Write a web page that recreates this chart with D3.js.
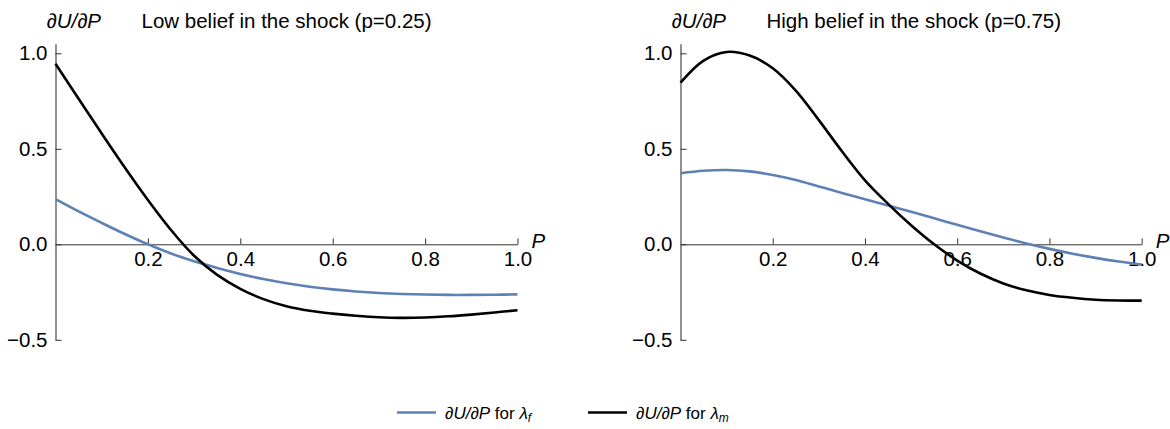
<!DOCTYPE html>
<html>
<head>
<meta charset="utf-8">
<script src="https://cdn.jsdelivr.net/npm/d3@7"></script>
<style>
  body { margin: 0; background: #fff; }
  svg { display: block; font-family: "Liberation Sans", Arial, Helvetica, sans-serif; }
</style>
</head>
<body>
<svg id="chart" width="1170" height="429"></svg>
<script>
// ---- data ----
const P = [0, 0.05, 0.1, 0.15, 0.2, 0.25, 0.3, 0.35, 0.4, 0.45, 0.5, 0.55, 0.6, 0.65, 0.7, 0.75, 0.8, 0.85, 0.9, 0.95, 1.0];

// Low belief (p = 0.25)
const lowF = [0.236, 0.172, 0.112, 0.054, 0.0, -0.048, -0.089, -0.124, -0.155, -0.182, -0.204, -0.222, -0.236, -0.247, -0.255, -0.260, -0.263, -0.265, -0.265, -0.264, -0.262];
const lowM = [0.945, 0.762, 0.580, 0.402, 0.232, 0.075, -0.060, -0.160, -0.233, -0.287, -0.324, -0.348, -0.363, -0.374, -0.382, -0.385, -0.383, -0.377, -0.368, -0.357, -0.345];

// High belief (p = 0.75)
const highF = [0.372, 0.385, 0.389, 0.382, 0.363, 0.337, 0.303, 0.269, 0.236, 0.203, 0.170, 0.136, 0.102, 0.068, 0.035, 0.004, -0.024, -0.049, -0.071, -0.090, -0.106];
const highM = [0.846, 0.962, 1.007, 0.988, 0.922, 0.805, 0.650, 0.487, 0.335, 0.212, 0.100, 0.000, -0.085, -0.153, -0.205, -0.241, -0.265, -0.280, -0.290, -0.294, -0.295];

const xTicks = [0.2, 0.4, 0.6, 0.8, 1.0];
const yTicks = [-0.5, 0, 0.5, 1.0];
const titles = ["Low belief in the shock (p=0.25)", "High belief in the shock (p=0.75)"];
const colors = { f: "#5E81B5", m: "#000000" };

// ---- drawing ----
const svg = d3.select("#chart");
const y = d3.scaleLinear().domain([-0.5, 1.05]).range([339.8, 43.75]);
const fmt = d3.format(".1f");
const FS = 20.5;

const panels = [
  { x: d3.scaleLinear().domain([0, 1]).range([55.5, 517.5]), title: titles[0], f: lowF, m: lowM },
  { x: d3.scaleLinear().domain([0, 1]).range([680.5, 1141.7]), title: titles[1], f: highF, m: highM }
];

panels.forEach(p => {
  const g = svg.append("g");
  const x0 = p.x(0);

  const xa = g.append("g")
    .attr("transform", `translate(0,${y(0)})`)
    .call(d3.axisBottom(p.x).tickValues(xTicks).tickFormat(fmt).tickSizeInner(-6).tickSizeOuter(0).tickPadding(7));
  const ya = g.append("g")
    .attr("transform", `translate(${x0},0)`)
    .call(d3.axisLeft(y).tickValues(yTicks).tickFormat(fmt).tickSizeInner(-6).tickSizeOuter(0).tickPadding(8));

  [xa, ya].forEach(a => {
    a.attr("font-size", FS).attr("font-family", "Liberation Sans, Arial, sans-serif");
    a.selectAll("text").attr("font-size", FS).attr("fill", "#000");
    a.selectAll("line").attr("stroke", "#333");
    a.select(".domain").attr("stroke", "#333");
  });
  ya.select(".domain").attr("stroke", "#555").attr("stroke-width", 1.3);

  g.append("text").attr("x", p.x(1) + 14).attr("y", y(0) + 4)
    .attr("font-size", FS).attr("font-style", "italic").text("P");

  g.append("text").attr("x", x0 - 9).attr("y", 28)
    .attr("font-size", FS).attr("font-style", "italic").text("∂U/∂P");
  g.append("text").attr("x", x0 + 86).attr("y", 28)
    .attr("font-size", FS).text(p.title);

  const line = d3.line().x((d, i) => p.x(P[i])).y(d => y(d)).curve(d3.curveCatmullRom.alpha(0.5));
  g.append("path").datum(p.f).attr("d", line).attr("fill", "none")
    .attr("stroke", colors.f).attr("stroke-width", 2.6).attr("stroke-linejoin", "round");
  g.append("path").datum(p.m).attr("d", line).attr("fill", "none")
    .attr("stroke", colors.m).attr("stroke-width", 2.6).attr("stroke-linejoin", "round");
});

// legend
const legend = [
  { x: 397, color: colors.f, sub: "f" },
  { x: 588, color: colors.m, sub: "m" }
];
legend.forEach(l => {
  svg.append("line").attr("x1", l.x).attr("x2", l.x + 39).attr("y1", 412.5).attr("y2", 412.5)
    .attr("stroke", l.color).attr("stroke-width", 2.6);
  const t = svg.append("text").attr("x", l.x + 48).attr("y", 418.5).attr("font-size", 17);
  t.append("tspan").attr("font-style", "italic").text("∂U/∂P");
  t.append("tspan").text(" for ");
  t.append("tspan").attr("font-style", "italic").text("λ");
  t.append("tspan").attr("font-style", "italic").attr("font-size", 12).attr("dy", 3).text(l.sub);
});
</script>
</body>
</html>
